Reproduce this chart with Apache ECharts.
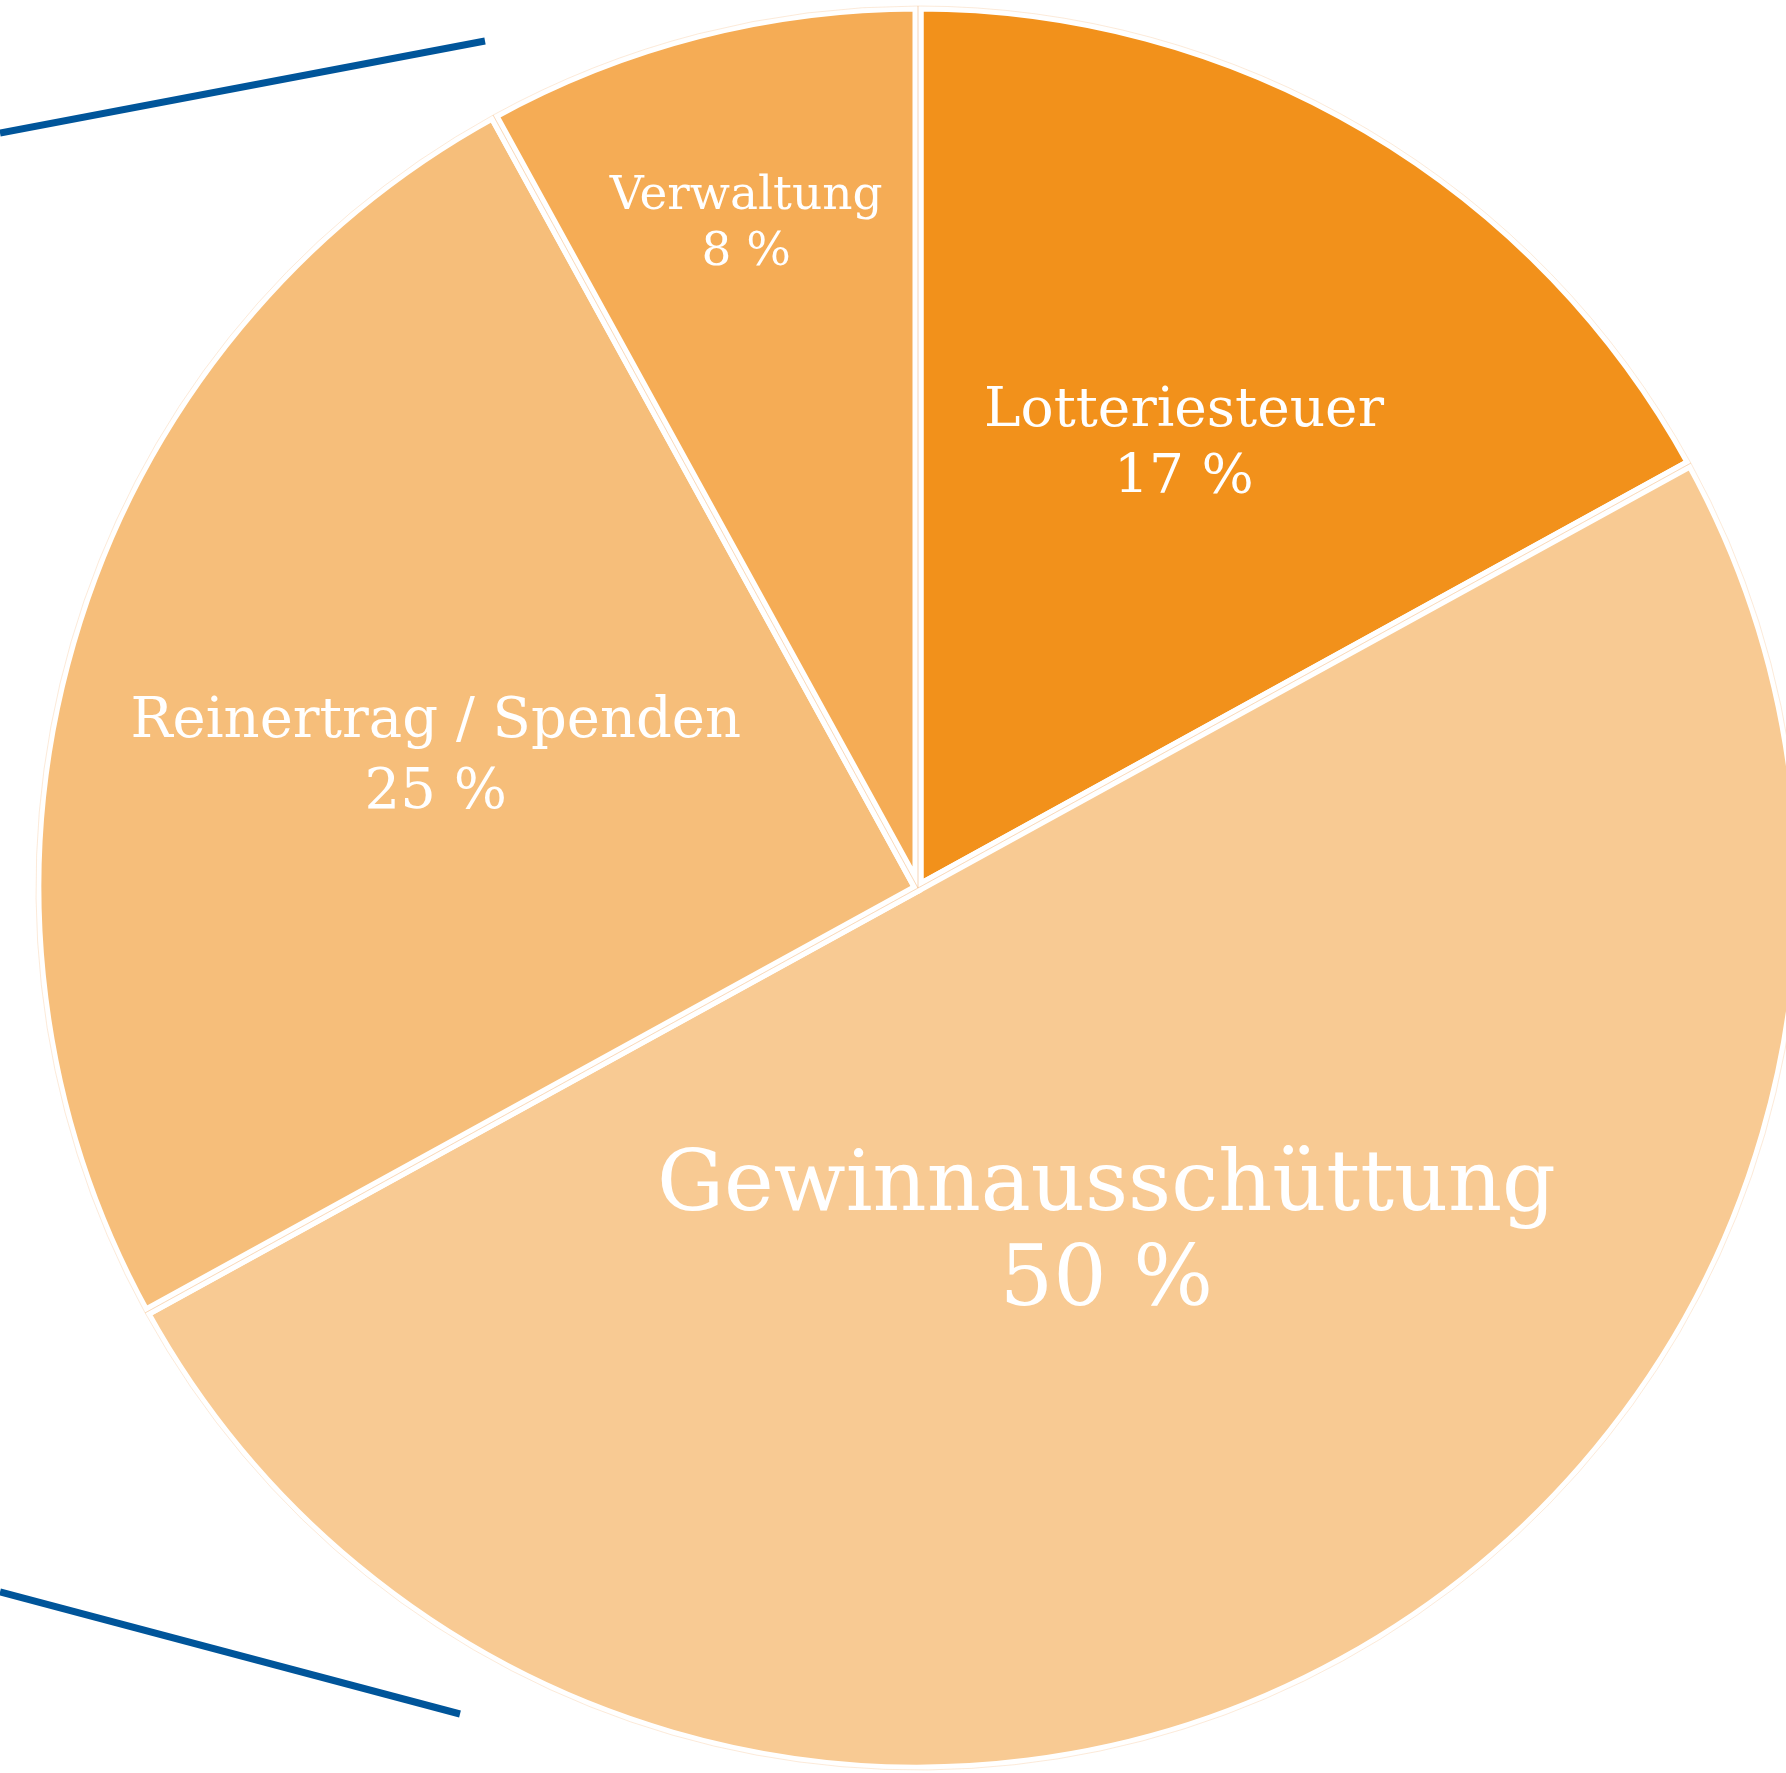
<!DOCTYPE html>
<html>
<head>
<meta charset="utf-8">
<style>
  html, body { margin: 0; padding: 0; background: #ffffff; }
  #chart { width: 1786px; height: 1773px; }
</style>
<script src="https://cdn.jsdelivr.net/npm/echarts@6/dist/echarts.min.js"></script>
</head>
<body>
<div id="chart"></div>
<script>
// Verteilung der Spieleinsätze (Anteile in Prozent)
const categories = ['Lotteriesteuer', 'Gewinnausschüttung', 'Reinertrag / Spenden', 'Verwaltung'];
const shares = [17, 50, 25, 8];

// Darstellung je Segment
const sliceColors = ['#F2911B', '#F8CA93', '#F6BE7A', '#F5AC55'];
const labelFontSizes = [55, 84, 56, 47];
const labelLineHeights = [67, 95, 71, 56];
// radialer Abstand der Beschriftung (Anteil am Radius) und vertikale Feinkorrektur
const labelRadiusFactor = [0.589, 0.44, 0.566, 0.78];
const labelNudgeY = [7, 5, 10, 6];

const CENTER = [918, 888];
const RADIUS = 882;
const BLUE = '#00559A';

const total = shares.reduce((a, b) => a + b, 0);
const midAngles = [];
let acc = 0;
shares.forEach(v => {
  midAngles.push((acc + v / 2) / total * 2 * Math.PI);
  acc += v;
});

const chart = echarts.init(document.getElementById('chart'), null, { renderer: 'canvas' });

chart.setOption({
  backgroundColor: '#ffffff',
  animation: false,
  series: [{
    type: 'pie',
    center: CENTER,
    radius: [0, RADIUS],
    startAngle: 90,
    clockwise: true,
    silent: true,
    itemStyle: { borderColor: '#ffffff', borderWidth: 11 },
    label: {
      show: true,
      position: 'inside',
      color: '#ffffff',
      fontFamily: 'DejaVu Serif',
      fontWeight: 'normal',
      align: 'center',
      formatter: p => p.name + '\n' + p.value + ' %'
    },
    labelLine: { show: false },
    labelLayout: params => {
      const i = params.dataIndex;
      const extra = (labelRadiusFactor[i] - 0.5) * RADIUS;
      return {
        dx: extra * Math.sin(midAngles[i]),
        dy: -extra * Math.cos(midAngles[i]) + labelNudgeY[i]
      };
    },
    data: categories.map((name, i) => ({
      name,
      value: shares[i],
      itemStyle: { color: sliceColors[i] },
      label: { fontSize: labelFontSizes[i], lineHeight: labelLineHeights[i] }
    }))
  }, {
    // feine Kontur entlang der Segmentkanten
    type: 'pie',
    center: CENTER,
    radius: [0, RADIUS],
    startAngle: 90,
    clockwise: true,
    silent: true,
    z: 3,
    label: { show: false },
    labelLine: { show: false },
    itemStyle: { color: 'rgba(0,0,0,0)', borderColor: 'rgba(242,160,80,0.22)', borderWidth: 1 },
    data: categories.map((name, i) => ({ name, value: shares[i] }))
  }],
  graphic: [
    { type: 'line', shape: { x1: 0, y1: 133, x2: 485, y2: 41 }, style: { stroke: BLUE, lineWidth: 7 } },
    { type: 'line', shape: { x1: 0, y1: 1592, x2: 460, y2: 1714 }, style: { stroke: BLUE, lineWidth: 7 } }
  ]
});
</script>
</body>
</html>
